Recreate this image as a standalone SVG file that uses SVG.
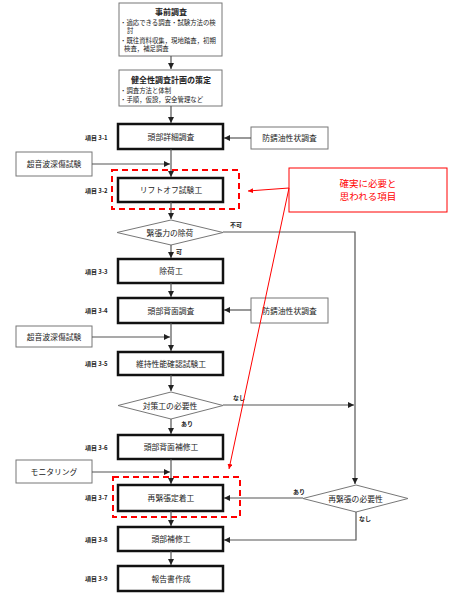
<svg xmlns="http://www.w3.org/2000/svg" width="455" height="596" viewBox="0 0 455 596">
<defs>
<marker id="ah" markerWidth="6" markerHeight="6" refX="6" refY="3" orient="auto" markerUnits="userSpaceOnUse"><path d="M0,0 L6,3 L0,6 z" fill="#222"/></marker>
<marker id="rh" markerWidth="5" markerHeight="5" refX="5" refY="2.5" orient="auto" markerUnits="userSpaceOnUse"><path d="M0,0 L5,2.5 L0,5 z" fill="#f00"/></marker>
<style>
text{font-family:"Noto Sans CJK JP","Liberation Sans",sans-serif;fill:#222}
.t{font-size:7.8px;text-anchor:middle}
.h{font-size:8px;font-weight:bold;text-anchor:middle}
.s{font-size:6.4px}
.lb{font-size:6px;font-weight:bold}
.bold{fill:#fff;stroke:#111;stroke-width:2.5}
.thin{fill:#fff;stroke:#777;stroke-width:1}
.dia{fill:#fff;stroke:#777;stroke-width:1}
.red{fill:none;stroke:#f00;stroke-width:2;stroke-dasharray:6,4}
.c{fill:none;stroke:#555;stroke-width:1.2;marker-end:url(#ah)}
.rc{fill:none;stroke:#f00;stroke-width:1;marker-end:url(#rh)}
.rt{fill:#f00;font-size:9.5px;text-anchor:middle}
</style>
</defs>
<g id="n-jizen">
<rect class="thin" x="119" y="3" width="103" height="53"/>
<text class="h" x="171" y="15">事前調査</text>
<text class="s" x="120" y="25">・適応できる調査・試験方法の検</text>
<text class="s" x="127" y="33">討</text>
<text class="s" x="120" y="43">・既往資料収集，現地踏査，初期</text>
<text class="s" x="124" y="51">検査，補足調査</text>
</g>
<g id="n-keikaku">
<rect class="thin" x="119" y="70" width="103" height="36"/>
<text class="h" x="171" y="83">健全性調査計画の策定</text>
<text class="s" x="120" y="93">・調査方法と体制</text>
<text class="s" x="120" y="102">・手順，仮設，安全管理など</text>
</g>
<g id="n-31">
<rect class="bold" x="118" y="124" width="105" height="25"/>
<text class="t" x="171" y="140">頭部詳細調査</text>
<text class="lb" x="85" y="140">項目 3-1</text>
</g>
<g id="n-bosei1">
<rect class="thin" x="251" y="127" width="77" height="22"/>
<text class="t" x="289.5" y="141">防錆油性状調査</text>
</g>
<g id="n-onpa1">
<rect class="thin" x="16" y="152" width="76" height="24"/>
<text class="t" x="54" y="167">超音波深傷試験</text>
</g>
<g id="n-32">
<rect class="red" x="112" y="170" width="127" height="39"/>
<rect class="bold" x="118" y="178" width="105" height="24"/>
<text class="t" x="171" y="193">リフトオフ試験工</text>
<text class="lb" x="85" y="193">項目 3-2</text>
</g>
<g id="n-callout">
<rect x="289" y="168" width="158" height="44" fill="#fff" stroke="#f00" stroke-width="1"/>
<text class="rt" x="368" y="187">確実に必要と</text>
<text class="rt" x="368" y="200">思われる項目</text>
</g>
<g id="n-jokadia">
<polygon class="dia" points="117,232.5 171,220 223,232.5 171,245"/>
<text class="t" x="170" y="235.5">緊張力の除荷</text>
<text class="lb" x="230" y="227">不可</text>
<text class="lb" x="176" y="254">可</text>
</g>
<g id="n-33">
<rect class="bold" x="118" y="259" width="105" height="24"/>
<text class="t" x="171" y="274">除荷工</text>
<text class="lb" x="85" y="274">項目 3-3</text>
</g>
<g id="n-34">
<rect class="bold" x="118" y="298" width="105" height="25"/>
<text class="t" x="171" y="313.5">頭部背面調査</text>
<text class="lb" x="85" y="313">項目 3-4</text>
</g>
<g id="n-bosei2">
<rect class="thin" x="251" y="298" width="77" height="25"/>
<text class="t" x="289.5" y="313.5">防錆油性状調査</text>
</g>
<g id="n-onpa2">
<rect class="thin" x="16" y="326" width="76" height="21"/>
<text class="t" x="54" y="339.5">超音波深傷試験</text>
</g>
<g id="n-35">
<rect class="bold" x="118" y="352" width="105" height="23"/>
<text class="t" x="171" y="366.5">維持性能確認試験工</text>
<text class="lb" x="85" y="366">項目 3-5</text>
</g>
<g id="n-taisakudia">
<polygon class="dia" points="118,405.5 171,392 223,405.5 171,419"/>
<text class="t" x="170" y="408.5">対策工の必要性</text>
<text class="lb" x="233" y="400">なし</text>
<text class="lb" x="181" y="426">あり</text>
</g>
<g id="n-36">
<rect class="bold" x="118" y="435" width="105" height="24"/>
<text class="t" x="171" y="450">頭部背面補修工</text>
<text class="lb" x="85" y="450">項目 3-6</text>
</g>
<g id="n-monitor">
<rect class="thin" x="16" y="460" width="76" height="23"/>
<text class="t" x="54" y="474.5">モニタリング</text>
</g>
<g id="n-37">
<rect class="red" x="113" y="477" width="127" height="40"/>
<rect class="bold" x="118" y="485" width="105" height="26"/>
<text class="t" x="171" y="501">再緊張定着工</text>
<text class="lb" x="85" y="500">項目 3-7</text>
</g>
<g id="n-saidia">
<polygon class="dia" points="303,498.5 356,485 408,498.5 356,512"/>
<text class="t" x="355.5" y="501.5">再緊張の必要性</text>
<text class="lb" x="293" y="494">あり</text>
<text class="lb" x="359" y="521">なし</text>
</g>
<g id="n-38">
<rect class="bold" x="118" y="527" width="105" height="24"/>
<text class="t" x="171" y="542">頭部補修工</text>
<text class="lb" x="85" y="542">項目 3-8</text>
</g>
<g id="n-39">
<rect class="bold" x="118" y="566" width="105" height="25"/>
<text class="t" x="171" y="581.5">報告書作成</text>
<text class="lb" x="85" y="581">項目 3-9</text>
</g>
<g id="connectors">
<path class="c" d="M171,56 V69"/>
<path class="c" d="M171,106 V123"/>
<path class="c" d="M251,138 H224"/>
<path class="c" d="M171,149 V177"/>
<path class="c" d="M92,164 H170"/>
<path class="c" d="M171,202 V219"/>
<path class="c" d="M223,232 H355 V484"/>
<path class="c" d="M171,245 V258"/>
<path class="c" d="M171,283 V297"/>
<path class="c" d="M251,310 H224"/>
<path class="c" d="M171,323 V351"/>
<path class="c" d="M92,337 H170"/>
<path class="c" d="M171,375 V391"/>
<path class="c" d="M223,405 H354"/>
<path class="c" d="M171,419 V434"/>
<path class="c" d="M171,459 V484"/>
<path class="c" d="M92,472 H170"/>
<path class="c" d="M303,498 H224"/>
<path class="c" d="M171,511 V526"/>
<path class="c" d="M356,512 V540 H224"/>
<path class="c" d="M171,551 V565"/>
<path class="rc" d="M289,188 L248,191"/>
<path class="rc" d="M289,188 L229,469"/>
</g>
</svg>
